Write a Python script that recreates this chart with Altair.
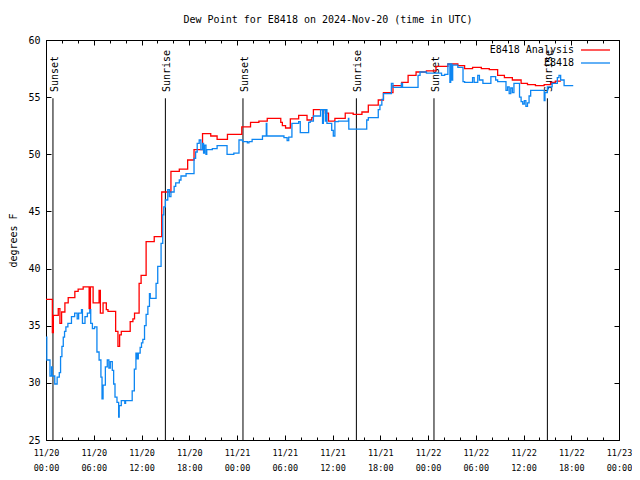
import altair as alt
import pandas as pd

# ---- data (hours since 2024-11-20 00:00 UTC, dew point in F) ----
red_h = [0, 0.8, 0.92, 1.54, 1.75, 1.96, 2.375, 2.79, 3.625, 4.04, 4.67, 5.42, 5.58, 5.92,
         6.67, 6.83, 7.17, 7.58, 7.79, 8.75, 9.04, 9.25, 9.46, 10.58, 10.92, 11.125, 11.7,
         11.95, 12.58, 13.6, 14.54, 15.7, 16.75, 17.8, 18.6, 19.67, 20.7, 21.5, 22.8, 24.6,
         25.7, 26.75, 27.8, 29.5, 29.7, 30.1, 30.7, 31.75, 32.8, 33.4, 33.6, 35.1, 35.5,
         36.3, 37.6, 38.6, 39.7, 40.5, 41.75, 42.4, 43.6, 44.7, 45.5, 46.5, 47.8, 49.0,
         50.5, 51.75, 52.6, 53.6, 54.7, 55.7, 56.75, 57.6, 58.6, 59.7, 60.5, 61.5, 62.6,
         63.4, 64.0, 64.7]
red_v = [37.3, 34.4, 35.9, 36.5, 35.2, 36.2, 37.0, 37.45, 38.0, 38.2, 38.4, 36.5, 38.4, 37.0,
         38.1, 36.1, 37.0, 36.4, 36.25, 34.5, 33.2, 34.2, 34.5, 35.35, 35.6, 36.1, 38.7,
         39.4, 42.35, 42.8, 46.7, 48.5, 48.7, 49.5, 50.4, 51.8, 51.6, 51.3, 51.75, 52.4,
         52.8, 52.9, 53.15, 52.8, 52.5, 52.3, 53.1, 53.4, 53.0, 53.2, 53.9, 53.6, 52.9,
         53.15, 53.6, 53.5, 53.7, 54.3, 54.75, 55.4, 56.0, 56.3, 56.9, 57.2, 57.3, 57.7,
         57.9, 57.75, 57.5, 57.6, 57.5, 57.4, 56.9, 56.7, 56.5, 56.2, 56.1, 56.0, 56.1,
         56.3, 56.4, 56.4]

blue_h = [0, 0.1, 0.5, 0.7, 0.78, 1.1, 1.4, 1.67, 1.83, 2.0, 2.17, 2.33, 2.5, 2.75, 3.2, 3.6,
          3.92, 4.1, 4.46, 4.58, 4.9, 5.2, 5.5, 5.62, 5.83, 6.1, 6.4, 6.67, 6.9, 7.04, 7.17,
          7.46, 7.7, 7.9, 8.08, 8.33, 8.5, 8.67, 8.92, 9.13, 9.2, 9.46, 9.9, 10.0, 10.83,
          11.1, 11.3, 11.46, 11.6, 11.83, 12.0, 12.17, 12.38, 12.58, 12.8, 13.0, 13.1,
          13.83, 14.04, 14.46, 14.67, 14.8, 15.0, 15.3, 15.5, 15.7, 16.1, 16.3, 16.75,
          16.96, 17.6, 18.6, 18.8, 19.0, 19.25, 19.46, 19.67, 19.8, 19.92, 20.1, 20.2,
          20.9, 21.5, 22.75, 23.6, 24.25, 24.7, 25.3, 25.5, 25.9, 27.2, 27.68, 27.75,
          29.9, 30.3, 30.5, 30.9, 31.75, 31.95, 33.0, 33.2, 33.6, 34.5, 34.75, 34.85,
          35.1, 35.2, 35.3, 35.9, 36.1, 36.3, 36.75, 38.0, 38.05, 40.3, 40.5, 41.75,
          41.96, 42.2, 42.4, 43.4, 43.6, 44.65, 44.8, 46.75, 47.0, 47.8, 49.7, 50.1,
          50.5, 50.75, 50.85, 51.0, 51.1, 51.75, 52.4, 52.6, 53.6, 53.8, 54.25, 54.46,
          54.9, 55.9, 56.5, 56.75, 57.8, 58.0, 58.2, 58.4, 58.6, 58.8, 59.5, 59.7, 59.9,
          60.1, 60.3, 60.5, 60.7, 60.9, 62.6, 62.7, 63.0, 63.6, 64.25, 64.46, 64.67,
          65.1, 66.25]
blue_v = [34.0, 32.0, 30.6, 31.4, 30.6, 29.9, 30.5, 30.9, 32.3, 33.2, 34.0, 34.5, 34.9, 35.2,
          35.8, 36.1, 35.6, 36.1, 36.4, 35.2, 35.8, 36.1, 36.4, 35.2, 34.75, 34.9, 32.7,
          32.0, 30.5, 28.6, 29.8, 31.4, 32.0, 31.3, 31.85, 31.1, 29.9, 28.75, 28.3, 27.0,
          28.0, 28.45, 28.2, 28.45, 29.3, 31.2, 32.6, 32.1, 32.6, 33.1, 33.5, 33.8, 35.0,
          36.0, 36.7, 37.8, 37.4, 38.7, 40.2, 42.2, 44.7, 45.4, 46.0, 46.9, 46.3, 46.7,
          47.2, 47.5, 47.75, 48.1, 48.3, 49.65, 50.2, 50.95, 51.25, 50.4, 50.95, 50.1,
          50.8, 50.0, 50.4, 50.5, 50.75, 50.0, 50.1, 51.25, 51.1, 51.0, 51.1, 51.3, 51.6,
          52.7, 51.6, 51.45, 51.2, 51.5, 52.7, 52.85, 51.9, 52.8, 52.9, 53.35, 53.9, 52.7,
          53.9, 52.9, 53.9, 52.7, 52.1, 51.6, 52.85, 52.9, 53.15, 52.2, 53.0, 53.2, 53.9,
          54.3, 54.8, 55.3, 56.2, 55.85, 56.2, 55.85, 56.9, 57.2, 57.1, 56.9, 57.0, 57.9,
          56.3, 57.9, 56.5, 57.8, 57.6, 56.35, 56.3, 56.7, 56.3, 56.9, 56.5, 56.2, 56.8,
          56.5, 56.35, 55.6, 55.9, 55.3, 55.8, 55.4, 56.2, 55.0, 54.6, 54.4, 54.7, 54.2,
          54.5, 55.1, 55.6, 54.7, 55.4, 55.9, 56.2, 56.7, 56.9, 56.5, 56.0, 56.0]

event_h = [0.875, 15.0, 24.75, 39.0, 48.75, 63.0]
event_label = ["Sunset", "Sunrise", "Sunset", "Sunrise", "Sunset", "Sunrise"]

legend_labels = ["E8418 Analysis", "E8418"]
series_colors = ["#ff0000", "#0d86f2"]

title_text = "Dew Point for E8418 on 2024-Nov-20 (time in UTC)"

x_major = list(range(0, 73, 6))
x_minor = list(range(0, 73, 2))
y_ticks = list(range(25, 61, 5))

MONO = "DejaVu Sans Mono"

red_df = pd.DataFrame({"h": red_h, "v": red_v})
blue_df = pd.DataFrame({"h": blue_h, "v": blue_v})
ev_df = pd.DataFrame({"h": event_h, "label": event_label})

xs = alt.Scale(domain=[0, 72], nice=False, zero=False)
ys = alt.Scale(domain=[25, 60], nice=False, zero=False)

label_expr = ("['11/' + (20 + floor(datum.value / 24)), "
              "(datum.value % 24 < 10 ? '0' : '') + (datum.value % 24) + ':00']")

common = dict(domain=False, grid=False, tickColor="black", title=None)

ax_bottom_major = alt.Axis(orient="bottom", values=x_major, tickSize=5, offset=-5,
                           labelExpr=label_expr, labelFont=MONO, labelFontSize=8.5,
                           labelPadding=8, labelLineHeight=15, labelBaseline="top",
                           labelColor="black", labelFlush=False, labelOverlap=False,
                           **common)
ax_bottom_minor = alt.Axis(orient="bottom", values=x_minor, tickSize=3, offset=-3,
                           labels=False, **common)
ax_top_major = alt.Axis(orient="top", values=x_major, tickSize=5, offset=-5,
                        labels=False, **common)
ax_top_minor = alt.Axis(orient="top", values=x_minor, tickSize=3, offset=-3,
                        labels=False, **common)
ax_left = alt.Axis(orient="left", values=y_ticks, tickSize=5, offset=-5, domain=False,
                   grid=False, tickColor="black", labelFont=MONO, labelFontSize=10,
                   labelColor="black", labelPadding=6, title="degrees F",
                   titleFont=MONO, titleFontSize=10, titleFontWeight="normal",
                   titleColor="black", titlePadding=9)
ax_right = alt.Axis(orient="right", values=y_ticks, tickSize=5, offset=-5,
                    labels=False, **common)

rules = alt.Chart(ev_df).mark_rule(color="black", strokeWidth=1).encode(
    x=alt.X("h:Q", scale=xs, axis=ax_bottom_minor),
    y=alt.Y(datum=25, scale=ys, axis=None),
    y2=alt.Y2(datum=54.9),
)

texts = alt.Chart(ev_df).mark_text(angle=270, align="left", baseline="middle", dy=2,
                                   font=MONO, fontSize=10, color="black").encode(
    x=alt.X("h:Q", scale=xs, axis=ax_top_minor),
    y=alt.Y(datum=55.45, scale=ys, axis=None),
    text="label:N",
)

red = alt.Chart(red_df).mark_line(interpolate="step-after", color=series_colors[0],
                                  strokeWidth=1.3).encode(
    x=alt.X("h:Q", scale=xs, axis=ax_bottom_major),
    y=alt.Y("v:Q", scale=ys, axis=ax_left),
)

blue = alt.Chart(blue_df).mark_line(interpolate="step-after", color=series_colors[1],
                                    strokeWidth=1.3).encode(
    x=alt.X("h:Q", scale=xs, axis=ax_top_major),
    y=alt.Y("v:Q", scale=ys, axis=ax_right),
)

title_layer = alt.Chart(pd.DataFrame({"t": [title_text]})).mark_text(
    align="center", baseline="middle", font=MONO, fontSize=10, color="black"
).encode(x=alt.value(282), y=alt.value(-20), text="t:N")

leg_layers = []
for i, (lab, col) in enumerate(zip(legend_labels, series_colors)):
    yy = 10 + 13 * i
    leg_layers.append(
        alt.Chart(pd.DataFrame({"t": [lab]})).mark_text(
            align="right", baseline="middle", font=MONO, fontSize=10, color="black"
        ).encode(x=alt.value(528), y=alt.value(yy), text="t:N")
    )
    leg_layers.append(
        alt.Chart(pd.DataFrame({"t": [lab]})).mark_rule(color=col, strokeWidth=1.3).encode(
            x=alt.value(535), x2=alt.value(564), y=alt.value(yy)
        )
    )

chart = alt.layer(rules, texts, red, blue, title_layer, *leg_layers).resolve_scale(
    x="independent", y="independent"
).properties(
    width=573,
    height=400,
    autosize=alt.AutoSizeParams(type="none"),
    padding={"left": 38, "top": 32, "right": 13, "bottom": 32},
    background="white",
).configure_view(stroke="black", strokeWidth=1)

chart.save("out.html", embed_options={"renderer": "svg", "actions": False})
